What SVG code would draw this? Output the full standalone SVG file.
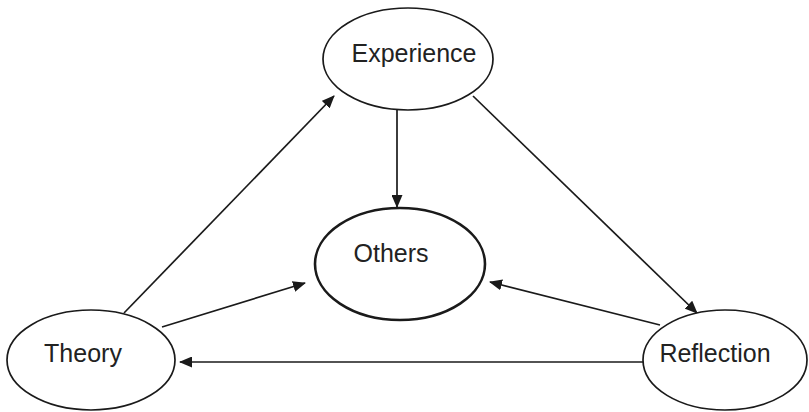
<svg xmlns="http://www.w3.org/2000/svg" width="809" height="412" viewBox="0 0 809 412">
<style>
.n ellipse{fill:#fff;stroke:#1a1a1a;stroke-width:1.7}
.n text{font-family:"Liberation Sans",Arial,sans-serif;font-size:25px;fill:#222;text-anchor:middle;dominant-baseline:central}
.c line{stroke:#1a1a1a;stroke-width:1.7}
</style>
<defs>
<marker id="a" viewBox="0 0 13 11" refX="12" refY="5.5" markerWidth="13" markerHeight="11" markerUnits="userSpaceOnUse" orient="auto">
<path d="M0,0 L13,5.5 L0,11 Z" fill="#1a1a1a"/>
</marker>
</defs>
<rect width="809" height="412" fill="#fff"/>
<g class="c">
<line x1="397" y1="110" x2="397" y2="207" marker-end="url(#a)"/>
<line x1="124" y1="313" x2="334" y2="96" marker-end="url(#a)"/>
<line x1="162" y1="327" x2="305" y2="283" marker-end="url(#a)"/>
<line x1="473" y1="96" x2="697" y2="313" marker-end="url(#a)"/>
<line x1="660" y1="325" x2="490" y2="282" marker-end="url(#a)"/>
<line x1="643" y1="362" x2="180" y2="362" marker-end="url(#a)"/>
</g>
<g id="experience" class="n"><ellipse cx="408" cy="59" rx="85" ry="51"/><text x="414" y="53">Experience</text></g>
<g id="others" class="n"><ellipse cx="400" cy="264" rx="85" ry="56" style="stroke-width:2.6"/><text x="391" y="253">Others</text></g>
<g id="theory" class="n"><ellipse cx="91" cy="360" rx="84" ry="50"/><text x="83" y="353">Theory</text></g>
<g id="reflection" class="n"><ellipse cx="725" cy="360" rx="82" ry="50"/><text x="715" y="353">Reflection</text></g>
</svg>
